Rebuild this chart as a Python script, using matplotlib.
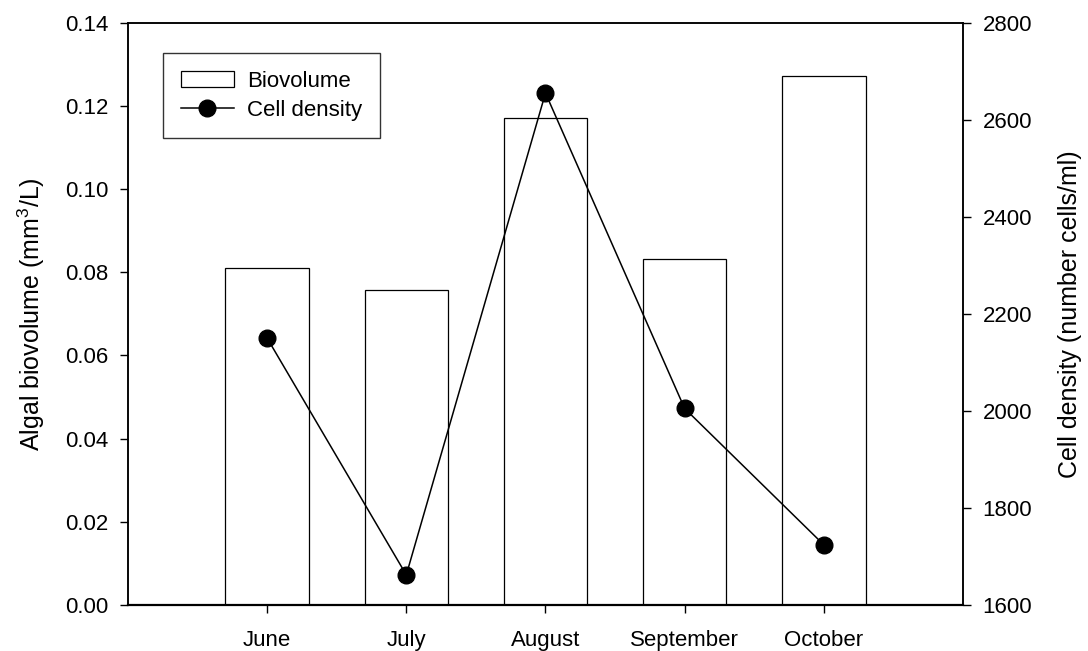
import matplotlib
matplotlib.use("Agg")
import matplotlib.pyplot as plt
import numpy as np

# data
months = ["June", "July", "August", "September", "October"]
biovolume = [0.081, 0.0758, 0.117, 0.0832, 0.1272]
cell_density = [2150, 1662, 2655, 2005, 1724]

plt.rcParams["font.family"] = ["Liberation Sans", "DejaVu Sans"]
plt.rcParams["mathtext.fontset"] = "custom"
plt.rcParams["mathtext.rm"] = "Liberation Sans"
plt.rcParams["mathtext.default"] = "regular"

fig = plt.figure(figsize=(10.88, 6.51), dpi=100)
ax = fig.add_axes([0.1176, 0.0707, 0.7675, 0.8944])
x = np.arange(1, len(months) + 1)

bars = ax.bar(x, biovolume, width=0.6, color="white", edgecolor="black",
              linewidth=0.9, label="Biovolume")
ax.set_xlim(0, 6)
ax.set_ylim(0, 0.14)
ax.set_yticks(np.arange(0, 0.141, 0.02))
ax.set_yticklabels([f"{v:.2f}" for v in np.arange(0, 0.141, 0.02)])
ax.set_xticks(x)
ax.set_xticklabels(months)
ax.set_ylabel("Algal biovolume (mm$^3$/L)", fontsize=18, labelpad=13)
ax.tick_params(axis="both", labelsize=16, length=6, width=1, direction="out")
ax.tick_params(axis="x", pad=12)
ax.tick_params(axis="y", pad=8)

ax2 = ax.twinx()
line, = ax2.plot(x, cell_density, color="black", linewidth=1.1, marker="o",
                 markersize=12, label="Cell density")
ax2.set_ylim(1600, 2800)
ax2.set_yticks(np.arange(1600, 2801, 200))
ax2.set_ylabel("Cell density (number cells/ml)", fontsize=18, labelpad=19)
ax2.tick_params(axis="y", labelsize=16, length=6, width=1, direction="out", pad=8)

for a in (ax, ax2):
    for s in a.spines.values():
        s.set_linewidth(1.1)
ax.spines["bottom"].set_linewidth(1.6)

leg = ax2.legend([bars, line], ["Biovolume", "Cell density"], loc="upper left",
                 bbox_to_anchor=(0.042, 0.948), borderaxespad=0, fontsize=16,
                 frameon=True, fancybox=False, edgecolor="black",
                 handlelength=2.4, handletextpad=0.6, labelspacing=0.35,
                 borderpad=0.8)
leg.get_frame().set_linewidth(1.0)

fig.savefig("out.png", dpi=100)
